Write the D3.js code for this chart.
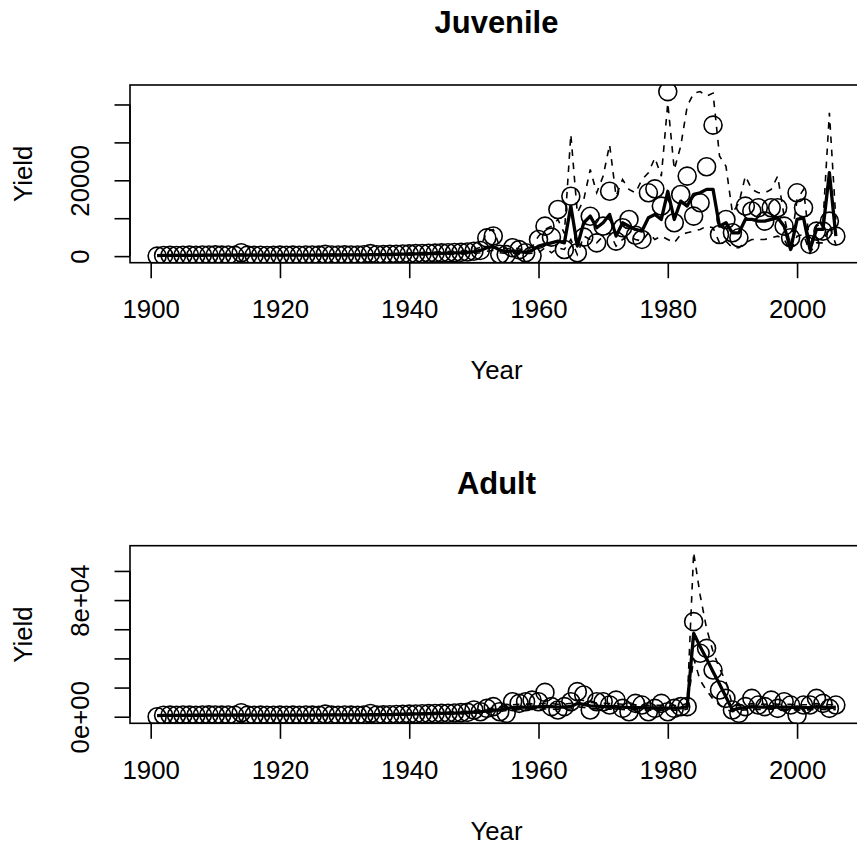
<!DOCTYPE html>
<html>
<head>
<meta charset="utf-8">
<script src="https://cdn.jsdelivr.net/npm/d3@7"></script>
<style>
  body { margin: 0; background: #fff; }
  svg { display: block; font-family: "Liberation Sans", Arial, Helvetica, sans-serif; }
</style>
</head>
<body>
<svg id="chart"></svg>
<script>
// years 1901..2006
const years = d3.range(1901, 2007);

// Juvenile: observed yield (circles), estimate (thick line), bounds (dashed)
const juvObs = [
  0, 150, 200, 180, 220, 250, 200, 300, 280, 320,
  250, 300, 200, 900, 250, 200, 220, 180, 200, 250,
  230, 260, 240, 280, 300, 260, 450, 300, 280, 320,
  300, 280, 350, 650, 350, 400, 450, 500, 550, 600,
  650, 700, 750, 800, 850, 900, 950, 1000, 1100, 1300,
  1500, 4800, 5300, 500, 400, 2200, 1700, 900, 100, 4400,
  7900, 5000, 12300, 1760, 15800, 880, 5000, 10500, 3500, 7900,
  17100, 3960, 7500, 9670, 5500, 4400, 16700, 17750, 13200, 43400,
  8790, 16260, 21100, 10550, 14060, 23560, 34550, 5700, 9670, 6150,
  4830, 13200, 11900, 12750, 9230, 12750, 12750, 7900, 4830, 16700,
  12750, 3080, 6600, 6600, 9230, 5270
];
const juvMed = [
  150, 180, 200, 200, 210, 220, 220, 230, 240, 250,
  250, 260, 260, 300, 270, 260, 250, 240, 240, 250,
  250, 260, 260, 270, 280, 280, 300, 300, 300, 310,
  310, 320, 330, 380, 380, 400, 430, 460, 500, 540,
  580, 620, 660, 700, 750, 800, 850, 900, 1000, 1200,
  1500, 2200, 2500, 1600, 1200, 1400, 1200, 1000, 1500, 2640,
  3080, 3500, 3960, 3500, 13200, 2640, 8800, 10550, 7470, 8800,
  11000, 5270, 8800, 7900, 7030, 6600, 10100, 11000, 9670, 17100,
  9670, 14500, 13200, 16300, 16700, 17600, 17600, 7900, 8800, 6150,
  6150, 9670, 9670, 9230, 9230, 9670, 10100, 7900, 1760, 9670,
  10100, 1760, 7030, 7030, 22000, 5270
];
const juvHi = [
  250, 280, 300, 300, 320, 330, 330, 350, 360, 380,
  380, 390, 390, 450, 400, 390, 380, 360, 360, 380,
  380, 390, 390, 400, 420, 420, 450, 450, 450, 460,
  460, 480, 500, 570, 570, 600, 650, 700, 750, 800,
  870, 930, 1000, 1050, 1120, 1200, 1280, 1350, 1500, 1800,
  2300, 6500, 7000, 2500, 1900, 2200, 1900, 1600, 2400, 5270,
  7030, 7900, 9670, 6000, 32100, 11400, 14900, 22850, 16700, 21100,
  29400, 15800, 20200, 17600, 16700, 20200, 22000, 25900, 21100, 40400,
  22850, 29000, 39500, 43000, 43400, 42200, 43000, 26400, 23700, 11400,
  14000, 21100, 17600, 16700, 16700, 17600, 21100, 10500, 2640, 14900,
  17600, 2640, 7900, 8800, 37800, 9670
];
const juvLo = [
  90, 110, 120, 120, 130, 130, 130, 140, 140, 150,
  150, 160, 160, 180, 160, 160, 150, 140, 140, 150,
  150, 160, 160, 160, 170, 170, 180, 180, 180, 190,
  190, 190, 200, 230, 230, 240, 260, 280, 300, 320,
  350, 370, 400, 420, 450, 480, 510, 540, 600, 700,
  900, 1300, 1500, 900, 700, 800, 700, 600, 800, 880,
  2200, 880, 2200, 1760, 4400, 440, 5270, 4400, 3500, 5270,
  6150, 2640, 4400, 5270, 4400, 3960, 6150, 4400, 5270, 4400,
  3500, 5700, 6150, 6600, 7030, 7900, 7470, 3500, 3960, 2200,
  2200, 3500, 4400, 4400, 4400, 4830, 5270, 4400, 1300, 5270,
  5700, 880, 3500, 3500, 7900, 3080
];

// Adult
const adObs = [
  0, 1000, 1100, 1000, 1200, 1100, 1000, 1200, 1300, 1200,
  1100, 1200, 1000, 2700, 1100, 1000, 1100, 1000, 1000, 1100,
  1000, 1100, 1000, 1200, 1100, 1000, 1800, 1100, 1000, 1200,
  1100, 1000, 1200, 2200, 1200, 1300, 1400, 1500, 1600, 1800,
  1900, 2000, 2100, 2200, 2300, 2400, 2600, 2800, 3000, 4600,
  3400, 5700, 6900, 3400, 2300, 10300, 9150, 10300, 11400, 10300,
  16700, 6900, 4600, 6900, 10300, 17200, 14900, 4600, 10300, 10300,
  8000, 11400, 5700, 3400, 9150, 8000, 3400, 5700, 9150, 3400,
  5700, 6900, 6900, 65200, 43500, 46900, 32000, 18300, 12600, 4600,
  2300, 6900, 12600, 8000, 6900, 11400, 5700, 10300, 8000, 1100,
  8000, 8000, 12600, 9150, 5700, 8000
];
const adMed = [
  800, 900, 900, 950, 950, 1000, 1000, 1000, 1050, 1050,
  1050, 1050, 1050, 1200, 1100, 1100, 1100, 1100, 1100, 1100,
  1100, 1100, 1100, 1150, 1150, 1150, 1200, 1200, 1200, 1200,
  1200, 1200, 1250, 1400, 1350, 1400, 1500, 1600, 1700, 1800,
  1900, 2000, 2100, 2200, 2300, 2400, 2500, 2700, 2900, 3200,
  3400, 4000, 4500, 4600, 5700, 6300, 6500, 6600, 6700, 6800,
  7000, 6900, 6600, 6600, 7000, 9000, 8500, 7500, 7200, 7000,
  6900, 6900, 6600, 6300, 6300, 6300, 6000, 6000, 6000, 5900,
  5900, 6000, 6900, 57200, 48200, 39800, 30900, 22400, 13500, 4600,
  5700, 6300, 6900, 6600, 6600, 6900, 6600, 6600, 6600, 6000,
  6300, 6300, 6900, 6600, 6300, 6600
];
const adHi = [
  1100, 1200, 1200, 1250, 1250, 1300, 1300, 1300, 1350, 1350,
  1350, 1350, 1350, 1550, 1400, 1400, 1400, 1400, 1400, 1400,
  1400, 1400, 1400, 1450, 1450, 1450, 1550, 1550, 1550, 1550,
  1550, 1550, 1600, 1800, 1750, 1800, 1950, 2100, 2200, 2350,
  2500, 2600, 2700, 2850, 3000, 3100, 3250, 3500, 3800, 4200,
  4500, 5300, 5900, 6000, 7500, 8200, 8500, 8600, 8800, 8900,
  9200, 9000, 8600, 8600, 9200, 11800, 11100, 9800, 9400, 9200,
  9000, 9000, 8600, 8200, 8200, 8200, 7800, 7800, 7800, 7700,
  7700, 7800, 9000, 112800, 83500, 60600, 44600, 33200, 24000, 8000,
  7500, 8200, 9000, 8600, 8600, 9000, 8600, 8600, 8600, 7800,
  8200, 8200, 9000, 8600, 8200, 8600
];
const adLo = [
  600, 650, 650, 700, 700, 750, 750, 750, 800, 800,
  800, 800, 800, 900, 850, 850, 850, 850, 850, 850,
  850, 850, 850, 880, 880, 880, 900, 900, 900, 900,
  900, 900, 950, 1050, 1000, 1050, 1150, 1200, 1300, 1350,
  1450, 1500, 1600, 1650, 1750, 1800, 1900, 2000, 2200, 2400,
  2600, 3000, 3400, 3500, 4300, 4700, 4900, 5000, 5000, 5100,
  5300, 5200, 5000, 5000, 5300, 6800, 6400, 5600, 5400, 5300,
  5200, 5200, 5000, 4700, 4700, 4700, 4500, 4500, 4500, 4400,
  4400, 4500, 5200, 40000, 25000, 18000, 12000, 8000, 5000, 3400,
  4300, 4700, 5200, 5000, 5000, 5200, 5000, 5000, 5000, 4500,
  4700, 4700, 5200, 5000, 4700, 5000
];

// axis ticks and the labels R kept
const xTicks = [1900, 1920, 1940, 1960, 1980, 2000];
const juvYTicks = [0, 10000, 20000, 30000, 40000];
const juvYLabels = { 0: "0", 20000: "20000" };
const adYTicks = [0, 20000, 40000, 60000, 80000, 100000];
const adYLabels = { 0: "0e+00", 80000: "8e+04" };

class YieldPanel {
  constructor(_config, _data) {
    this.config = {
      parentElement: _config.parentElement,
      id: _config.id,
      title: _config.title,
      box: _config.box,
      yTicks: _config.yTicks,
      yLabels: _config.yLabels,
      lineUnit: _config.lineUnit || 31,
      fontSize: _config.fontSize || 25.8,
    };
    this.data = _data;
    this.initVis();
  }

  initVis() {
    let vis = this;
    const box = vis.config.box;

    // R style axis range: data range stretched by 4% on each side
    const xExt = d3.extent(years);
    const xPad = (xExt[1] - xExt[0]) * 0.04;
    vis.x = d3
      .scaleLinear()
      .domain([xExt[0] - xPad, xExt[1] + xPad])
      .range([box.left, box.right]);

    const allY = [].concat(vis.data.obs, vis.data.med, vis.data.hi, vis.data.lo);
    const yMin = d3.min(allY);
    const yMax = d3.max(allY);
    const yPad = (yMax - yMin) * 0.04;
    vis.y = d3
      .scaleLinear()
      .domain([yMin - yPad, yMax + yPad])
      .range([box.bottom, box.top]);

    vis.g = vis.config.parentElement.append("g").attr("class", "panel");

    vis.g
      .append("clipPath")
      .attr("id", "clip-" + vis.config.id)
      .append("rect")
      .attr("x", box.left)
      .attr("y", box.top)
      .attr("width", box.right - box.left)
      .attr("height", box.bottom - box.top);

    vis.plotArea = vis.g
      .append("g")
      .attr("clip-path", `url(#clip-${vis.config.id})`);

    vis.renderVis();
  }

  renderVis() {
    let vis = this;
    const box = vis.config.box;
    const fs = vis.config.fontSize;
    const lu = vis.config.lineUnit;

    const rows = years.map((yr, i) => ({
      year: yr,
      obs: vis.data.obs[i],
      med: vis.data.med[i],
      hi: vis.data.hi[i],
      lo: vis.data.lo[i],
    }));

    const lineFor = (key) =>
      d3
        .line()
        .x((d) => vis.x(d.year))
        .y((d) => vis.y(d[key]));

    // dashed bounds
    ["hi", "lo"].forEach((key) => {
      vis.plotArea
        .append("path")
        .datum(rows)
        .attr("fill", "none")
        .attr("stroke", "#000")
        .attr("stroke-width", 1.6)
        .attr("stroke-dasharray", "6.6,6.6")
        .attr("d", lineFor(key));
    });

    // estimate
    vis.plotArea
      .append("path")
      .datum(rows)
      .attr("fill", "none")
      .attr("stroke", "#000")
      .attr("stroke-width", 3.3)
      .attr("stroke-linejoin", "round")
      .attr("d", lineFor("med"));

    // observed
    vis.plotArea
      .selectAll(".obs")
      .data(rows)
      .join("circle")
      .attr("class", "obs")
      .attr("cx", (d) => vis.x(d.year))
      .attr("cy", (d) => vis.y(d.obs))
      .attr("r", 9)
      .attr("fill", "none")
      .attr("stroke", "#000")
      .attr("stroke-width", 1.6);

    // frame
    vis.g
      .append("rect")
      .attr("x", box.left)
      .attr("y", box.top)
      .attr("width", box.right - box.left)
      .attr("height", box.bottom - box.top)
      .attr("fill", "none")
      .attr("stroke", "#000")
      .attr("stroke-width", 1.6);

    // x axis
    const xAxis = d3
      .axisBottom(vis.x)
      .tickValues(xTicks)
      .tickFormat(d3.format("d"))
      .tickSize(lu / 2)
      .tickPadding(lu * 1.8 - lu / 2 - fs * 0.71);

    const xg = vis.g
      .append("g")
      .attr("transform", `translate(0,${box.bottom})`)
      .call(xAxis);
    xg.select(".domain")
      .attr("d", `M${vis.x(xTicks[0])},0H${vis.x(xTicks[xTicks.length - 1])}`)
      .attr("stroke-width", 1.6);
    xg.selectAll(".tick line").attr("stroke-width", 1.6);
    xg.selectAll(".tick text")
      .attr("fill", "#000")
      .style("font-size", fs + "px")
      .style("font-family", "Liberation Sans, Arial, sans-serif");

    // y axis
    const yAxis = d3
      .axisLeft(vis.y)
      .tickValues(vis.config.yTicks)
      .tickFormat((d) => vis.config.yLabels[d] || "")
      .tickSize(lu / 2);

    const yg = vis.g
      .append("g")
      .attr("transform", `translate(${box.left},0)`)
      .call(yAxis);
    const yt = vis.config.yTicks;
    yg.select(".domain")
      .attr("d", `M0,${vis.y(yt[0])}V${vis.y(yt[yt.length - 1])}`)
      .attr("stroke-width", 1.6);
    yg.selectAll(".tick line").attr("stroke-width", 1.6);
    yg.selectAll(".tick text")
      .attr("x", null)
      .attr("dy", null)
      .attr("text-anchor", "middle")
      .attr("transform", `translate(${-lu * 1.32},0) rotate(-90)`)
      .attr("fill", "#000")
      .style("font-size", fs + "px")
      .style("font-family", "Liberation Sans, Arial, sans-serif");

    // title and axis titles
    vis.g
      .append("text")
      .attr("x", (box.left + box.right) / 2)
      .attr("y", box.top - lu * 1.68)
      .attr("text-anchor", "middle")
      .style("font-size", fs * 1.2 + "px")
      .style("font-weight", "bold")
      .text(vis.config.title);

    vis.g
      .append("text")
      .attr("x", (box.left + box.right) / 2)
      .attr("y", box.bottom + lu * 3.76)
      .attr("text-anchor", "middle")
      .style("font-size", fs + "px")
      .text("Year");

    vis.g
      .append("text")
      .attr(
        "transform",
        `translate(${box.left - lu * 3.17},${(box.top + box.bottom) / 2}) rotate(-90)`
      )
      .attr("text-anchor", "middle")
      .style("font-size", fs + "px")
      .text("Yield");
  }
}

const svg = d3.select("#chart").attr("width", 857).attr("height", 848);

new YieldPanel(
  {
    parentElement: svg,
    id: "juv",
    title: "Juvenile",
    box: { left: 130, right: 863, top: 85, bottom: 262.7 },
    yTicks: juvYTicks,
    yLabels: juvYLabels,
  },
  { obs: juvObs, med: juvMed, hi: juvHi, lo: juvLo }
);

new YieldPanel(
  {
    parentElement: svg,
    id: "adult",
    title: "Adult",
    box: { left: 130, right: 863, top: 545.7, bottom: 723.3 },
    yTicks: adYTicks,
    yLabels: adYLabels,
  },
  { obs: adObs, med: adMed, hi: adHi, lo: adLo }
);
</script>
</body>
</html>
